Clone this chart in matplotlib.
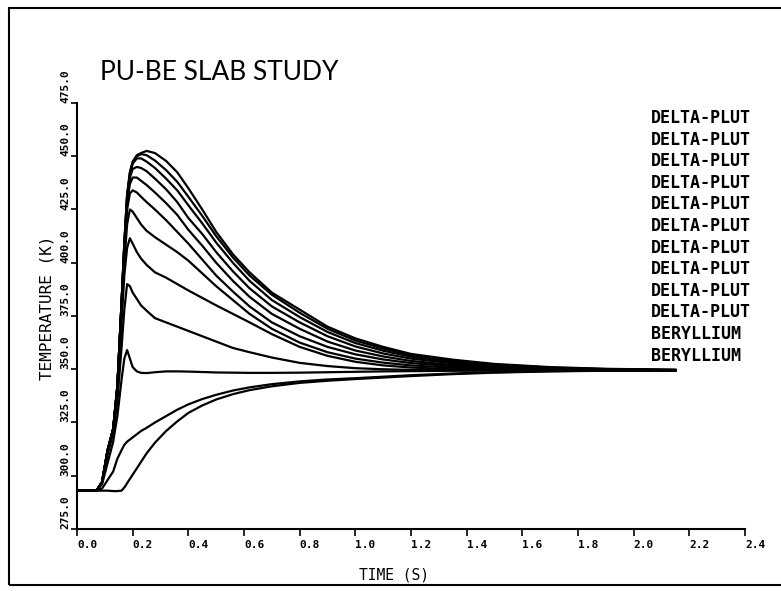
import matplotlib
matplotlib.use('Agg')

import matplotlib.pyplot as plt
import matplotlib.patches as patches

# Time grid shared by all curves (s)
TIME = [0.00, 0.07, 0.09, 0.11, 0.13, 0.145, 0.16, 0.17, 0.18, 0.19, 0.20,
        0.215, 0.23, 0.25, 0.28, 0.32, 0.36, 0.40, 0.45, 0.50, 0.56, 0.62,
        0.70, 0.80, 0.90, 1.00, 1.10, 1.20, 1.35, 1.50, 1.70, 1.90, 2.15]

# Delta-plutonium temperatures (K), hottest first
DP1 = [293, 293, 297, 312, 322, 342, 381, 409, 432, 442.5, 447.5, 450.5, 451.5, 452.5, 451.5,
       447.8, 442.5, 435, 425, 414.5, 404, 395.5, 386, 378, 370, 364.5, 360.5, 357.2,
       354.5, 352.5, 351, 350.2, 349.8]
DP2 = [293, 293, 297, 312, 322, 342, 381, 409, 431.5, 442, 447, 450, 451, 450.5, 448,
       443.5, 438, 431, 422, 412.5, 402.5, 394, 385, 376.5, 369, 363.5, 359.7, 356.6,
       354, 352.2, 350.8, 350.1, 349.7]
DP3 = [293, 293, 297, 312, 322, 342, 381, 409, 431, 441.5, 446.5, 449, 449, 447.5, 444.5,
       439.5, 434, 427, 418.5, 409.5, 400, 391.5, 382.5, 374.5, 367.5, 362.3, 358.7, 355.9,
       353.4, 351.8, 350.6, 350, 349.6]
DP4 = [293, 293, 297, 312, 322, 342, 381, 408, 430, 440, 444, 445, 444.5, 443, 439.5,
       434.5, 428.5, 421, 413.5, 405, 396, 388, 379.5, 372, 365.5, 360.7, 357.4, 355,
       352.8, 351.4, 350.4, 349.9, 349.6]
DP5 = [293, 293, 297, 312, 322, 342, 381, 407, 428, 437, 440, 440, 438.5, 436.5, 433,
       428, 422.5, 415.5, 408, 400, 391.5, 384, 376, 369, 363, 358.8, 356, 353.9,
       352, 351, 350.2, 349.8, 349.5]
DP6 = [293, 293, 297, 312, 322, 342, 380, 405, 425, 432.5, 434, 433, 431, 428.5, 425,
       420, 414.5, 409, 401.5, 394, 386.5, 379.5, 372, 365.5, 360.5, 357, 354.6, 352.9,
       351.4, 350.6, 350, 349.7, 349.5]
DP7 = [293, 293, 297, 312, 322, 341, 378, 400, 418, 425, 424, 421, 418, 415, 412,
       408.5, 405, 401, 395, 389, 382.5, 376, 369, 362.5, 358, 355, 353.1, 351.8,
       350.7, 350.1, 349.7, 349.5, 349.5]
DP8 = [293, 293, 297, 311, 321, 339, 372, 394, 407, 411.5, 409, 405, 402, 399, 395.5,
       393, 390, 387, 383.5, 380, 376, 372, 366.5, 360.5, 356.3, 353.5, 351.8, 350.8,
       350, 349.7, 349.5, 349.5, 349.5]
DP9 = [293, 293, 297, 310, 320, 335, 360, 378, 390, 389, 386, 383, 380, 377.5, 374,
       372, 370, 368, 365.5, 363, 360, 358, 355.5, 353, 351.5, 350.5, 350, 349.7,
       349.5, 349.5, 349.5, 349.5, 349.5]
DP10 = [293, 293, 296, 306, 316, 328, 345, 355, 359, 355, 351, 349, 348.3, 348.2, 348.6,
        349, 349, 348.9, 348.7, 348.5, 348.4, 348.3, 348.3, 348.4, 348.6, 348.8, 349, 349.1,
        349.3, 349.4, 349.5, 349.5, 349.5]

# Beryllium temperatures (K)
BE1 = [293, 293, 294, 298, 302, 308, 312, 314.5, 316, 317, 318, 319.5, 321, 322.5, 325,
       328, 331, 333.5, 336, 338, 340, 341.5, 343, 344.3, 345.2, 345.8, 346.5, 347.2,
       348, 348.6, 349.1, 349.4, 349.5]
BE2 = [293, 293, 293, 293, 292.8, 292.8, 293, 294.5, 296.5, 298.5, 300.5, 303.5, 306.5, 310.5, 315.5,
       321, 325.5, 329.5, 333, 335.8, 338.3, 340.2, 342, 343.6, 344.6, 345.4, 346.1, 346.8,
       347.7, 348.4, 349, 349.3, 349.5]

SERIES = [DP1, DP2, DP3, DP4, DP5, DP6, DP7, DP8, DP9, DP10, BE1, BE2]
LABELS = ['DELTA-PLUT'] * 10 + ['BERYLLIUM'] * 2

X_TICKS = [0.0, 0.2, 0.4, 0.6, 0.8, 1.0, 1.2, 1.4, 1.6, 1.8, 2.0, 2.2, 2.4]
Y_TICKS = [275.0, 300.0, 325.0, 350.0, 375.0, 400.0, 425.0, 450.0, 475.0]

W, H = 781, 591
MONO = 'DejaVu Sans Mono'

fig = plt.figure(figsize=(W / 100, H / 100), dpi=100)
ax = fig.add_axes([77 / W, 1 - 529 / H, (745 - 77) / W, (529 - 103) / H])

for temps in SERIES:
    ax.plot(TIME, temps, color='black', linewidth=1.6, solid_joinstyle='round')

ax.set_xlim(0, 2.4)
ax.set_ylim(275, 475)
ax.set_xticks(X_TICKS)
ax.set_yticks(Y_TICKS)
ax.set_xticklabels(['%.1f' % v for v in X_TICKS], fontfamily=MONO,
                   fontweight='bold', fontsize=8, ha='left')
ax.set_yticklabels(['%.1f' % v for v in Y_TICKS], fontfamily=MONO,
                   fontweight='bold', fontsize=8, rotation=90, va='bottom')
ax.tick_params(axis='x', length=5, width=1.2, color='black', pad=3)
ax.tick_params(axis='y', length=4, width=1.2, color='black', pad=1)

for side in ('top', 'right'):
    ax.spines[side].set_visible(False)
for side in ('left', 'bottom'):
    ax.spines[side].set_linewidth(1.5)

ax.set_xlabel('TIME (S)', fontfamily=MONO, fontsize=10.5)
ax.xaxis.set_label_coords((394 - 77) / (745 - 77), -(568 - 529) / (529 - 103))
ax.set_ylabel('TEMPERATURE (K)', fontfamily=MONO, fontsize=11.5)
ax.yaxis.set_label_coords(-(77 - 54) / (745 - 77), 0.52)

# Title
fig.text(100 / W, 1 - 72 / H, 'PU-BE SLAB STUDY', fontsize=19, fontfamily='Lato',
         fontweight='normal', va='center', ha='left', color='black')

# Curve labels on the right
for i, label in enumerate(LABELS):
    fig.text(651 / W, 1 - (118 + i * 21.6) / H, label, fontfamily=MONO,
             fontsize=12, fontweight='bold', va='center', ha='left')

# Outer frame (right side runs off the page, as in the scan)
frame = patches.Rectangle((9 / W, 6 / H), 1.1, 1 - 14 / H, transform=fig.transFigure,
                          fill=False, edgecolor='black', linewidth=1.5, clip_on=False)
fig.patches.append(frame)

fig.savefig('out.png', dpi=100, facecolor='white')
